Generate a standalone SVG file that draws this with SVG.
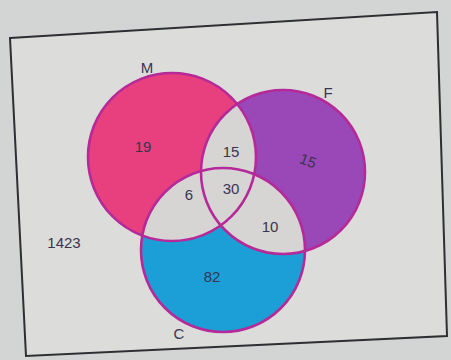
<svg xmlns="http://www.w3.org/2000/svg" width="451" height="360" viewBox="0 0 451 360">
<defs>
<style>
.lbl{font-family:"Liberation Sans",Arial,sans-serif;font-size:15px;fill:#3a3450;text-anchor:middle}
.ring{fill:none;stroke:#b52a98;stroke-width:2.6}
.gap{fill:#d6d5d4}
</style>
<clipPath id="clipM"><circle cx="172" cy="157" r="84"/></clipPath>
<clipPath id="clipF"><circle cx="283" cy="172" r="82"/></clipPath>
</defs>
<rect x="0" y="0" width="451" height="360" fill="#d3d4d4"/>
<polygon points="10,38 437,12 447,336 26,356" fill="#dcdcdb" stroke="#2e2e33" stroke-width="2"/>
<g id="node-M">
<circle cx="172" cy="157" r="84" fill="#e8407e"/>
</g>
<g id="node-F">
<circle cx="283" cy="172" r="82" fill="#9a47b8"/>
</g>
<g id="node-C">
<circle cx="223" cy="250" r="82" fill="#1b9fd6"/>
</g>
<g id="intersections">
<circle cx="283" cy="172" r="82" class="gap" clip-path="url(#clipM)"/>
<circle cx="223" cy="250" r="82" class="gap" clip-path="url(#clipM)"/>
<circle cx="223" cy="250" r="82" class="gap" clip-path="url(#clipF)"/>
</g>
<g id="connectors">
<circle cx="172" cy="157" r="84" class="ring"/>
<circle cx="283" cy="172" r="82" class="ring"/>
<circle cx="223" cy="250" r="82" class="ring"/>
</g>
<g id="labels">
<text class="lbl" x="147" y="73" font-size="13">M</text>
<text class="lbl" x="328" y="98" font-size="13">F</text>
<text class="lbl" x="179" y="339" font-size="14">C</text>
<text class="lbl" x="64" y="248" font-size="13">1423</text>
<text class="lbl" x="143" y="152">19</text>
<text class="lbl" x="231" y="157">15</text>
<text class="lbl" x="308" y="166" transform="rotate(20 308 161)">15</text>
<text class="lbl" x="189" y="200" font-size="14">6</text>
<text class="lbl" x="231" y="194" font-size="17">30</text>
<text class="lbl" x="270" y="232">10</text>
<text class="lbl" x="212" y="282" font-size="16">82</text>
</g>
</svg>
